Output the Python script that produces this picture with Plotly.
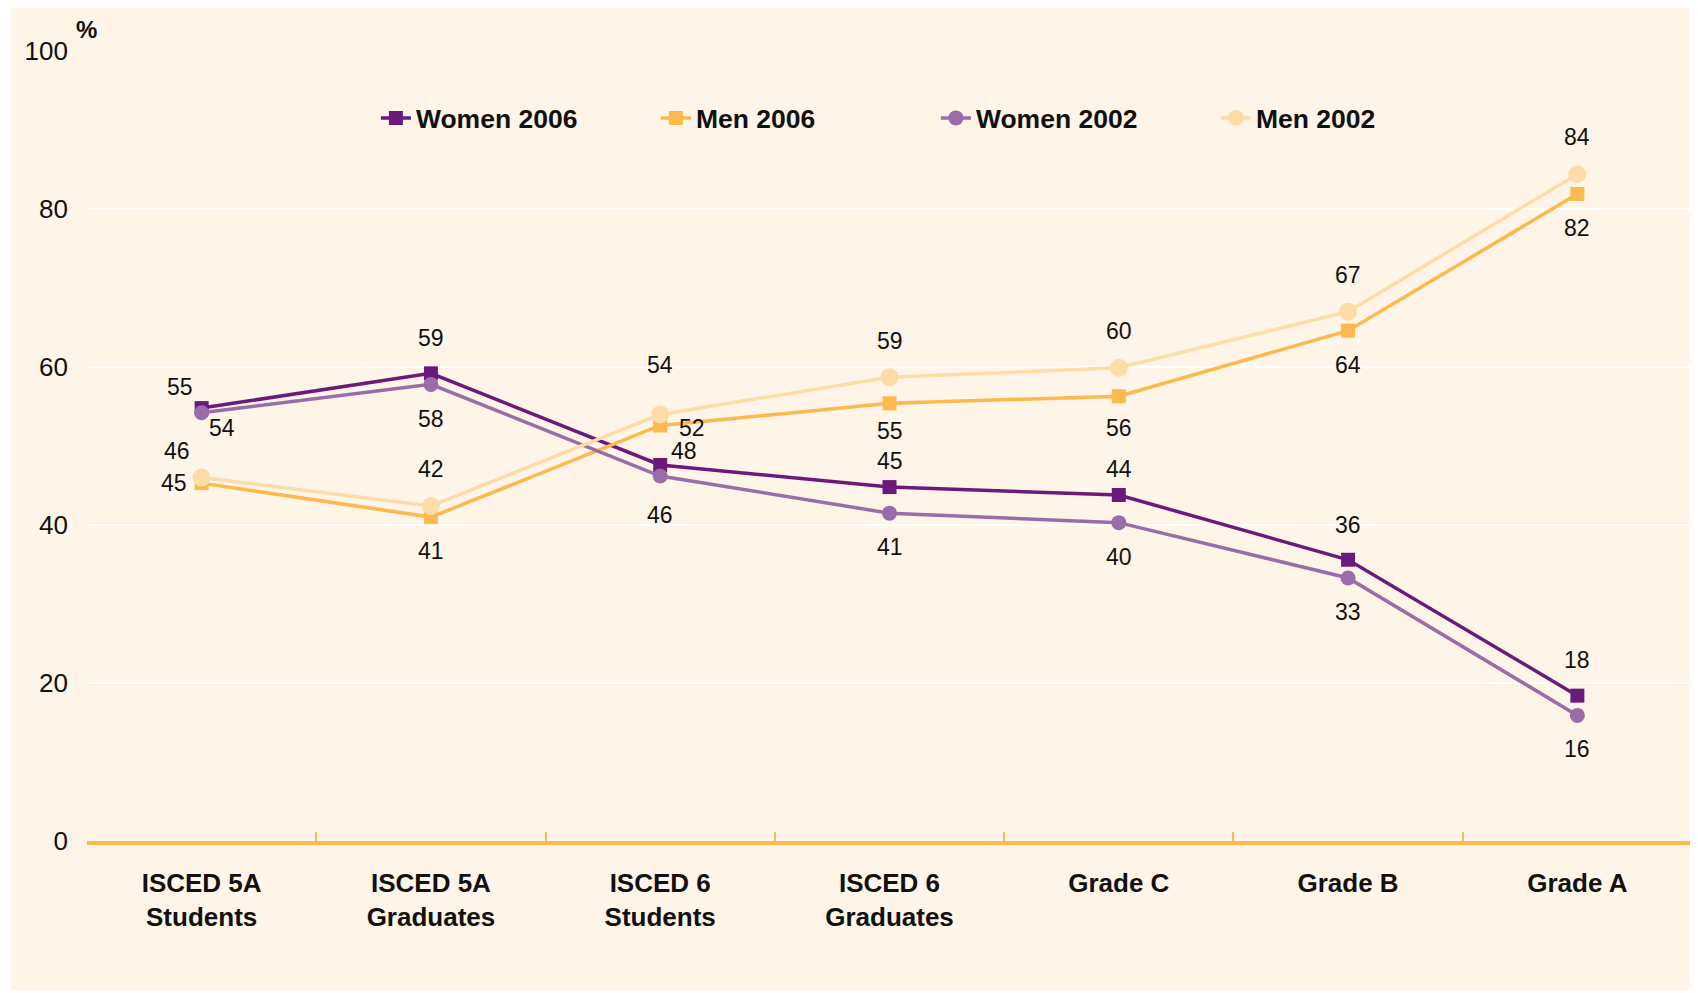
import plotly.graph_objects as go

categories = ["ISCED 5A<br>Students", "ISCED 5A<br>Graduates", "ISCED 6<br>Students",
              "ISCED 6<br>Graduates", "Grade C", "Grade B", "Grade A"]

women_2006 = [54.8, 59.2, 47.6, 44.8, 43.8, 35.6, 18.4]
men_2006 = [45.3, 41.0, 52.6, 55.4, 56.3, 64.6, 81.9]
women_2002 = [54.2, 57.8, 46.2, 41.5, 40.3, 33.3, 15.9]
men_2002 = [46.0, 42.4, 54.0, 58.7, 59.9, 67.0, 84.4]

labels_women_2006 = ["55", "59", "48", "45", "44", "36", "18"]
labels_men_2006 = ["45", "41", "52", "55", "56", "64", "82"]
labels_women_2002 = ["54", "58", "46", "41", "40", "33", "16"]
labels_men_2002 = ["46", "42", "54", "59", "60", "67", "84"]

y_ticks = [0, 20, 40, 60, 80, 100]

# label offsets in pixels (style)
shift_w06 = [(-22, 21), (0, 35), (24, 14), (0, 26), (0, 26), (0, 35), (0, 36)]
shift_m06 = [(-28, 0), (0, -34), (32, -3), (0, -28), (0, -32), (0, -34), (0, -34)]
shift_w02 = [(20, -15), (0, -35), (0, -39), (0, -34), (0, -34), (0, -34), (0, -34)]
shift_m02 = [(-25, 27), (0, 37), (0, 49), (0, 36), (0, 37), (0, 37), (0, 37)]

FONT = "Liberation Sans, Arial, sans-serif"

series = [
    ("Women 2006", women_2006, labels_women_2006, shift_w06, "#6B1A7B", "square", 14),
    ("Men 2006", men_2006, labels_men_2006, shift_m06, "#FDB94E", "square", 14),
    ("Women 2002", women_2002, labels_women_2002, shift_w02, "#9A6DA8", "circle", 15),
    ("Men 2002", men_2002, labels_men_2002, shift_m02, "#FDDCA8", "circle", 18),
]

fig = go.Figure()
annotations = []
for name, vals, labs, shifts, color, sym, msize in series:
    fig.add_trace(go.Scatter(
        x=categories, y=vals, name=name, mode="lines+markers",
        line=dict(color=color, width=3.5),
        marker=dict(symbol=sym, size=msize, color=color),
        hoverinfo="x+y",
    ))
    for c, v, lab, (dx, dy) in zip(categories, vals, labs, shifts):
        annotations.append(dict(
            x=c, y=v, text=lab, showarrow=False, xshift=dx, yshift=dy,
            font=dict(family=FONT, size=23, color="#111111"),
        ))

annotations.append(dict(
    xref="paper", yref="paper", x=0.0, y=1.0, xshift=-13, yshift=22,
    text="<b>%</b>", showarrow=False, xanchor="left", yanchor="middle",
    font=dict(family=FONT, size=24, color="#111111"),
))

# the page body adds an 8px offset; size and margins compensate for it
fig.update_layout(
    width=1690, height=985,
    margin=dict(l=79, r=6, t=43, b=152),
    paper_bgcolor="white",
    plot_bgcolor="#FDEDD6",
    font=dict(family=FONT, color="#111111"),
    showlegend=True,
    legend=dict(
        orientation="h", x=0.180, y=0.915, xanchor="left", yanchor="middle",
        bgcolor="rgba(0,0,0,0)", entrywidth=235, entrywidthmode="pixels",
        font=dict(family=FONT, size=26.5, color="#111111", weight="bold"),
        itemclick=False,
    ),
    annotations=annotations,
    shapes=[dict(
        type="rect", xref="paper", yref="paper", layer="below",
        x0=-0.0474, x1=1.01, y0=-0.1886, y1=1.06,
        fillcolor="#FEF4E7", line=dict(width=0),
    )],
)

fig.update_xaxes(
    type="category", range=[-0.5, 6.5],
    showgrid=False, showline=True, linecolor="#FDB94E", linewidth=4,
    ticks="inside", tickson="boundaries", ticklen=9, tickwidth=2, tickcolor="#FDB94E",
    tickfont=dict(family=FONT, size=26, color="#111111", weight="bold"),
    ticklabelstandoff=16,
)
fig.update_yaxes(
    range=[0, 100], tickvals=y_ticks, showgrid=True, gridcolor="white", gridwidth=2,
    zeroline=False, showline=False, ticks="",
    tickfont=dict(family=FONT, size=26, color="#111111"),
    ticklabelstandoff=18,
)

fig.write_html("out.html")
